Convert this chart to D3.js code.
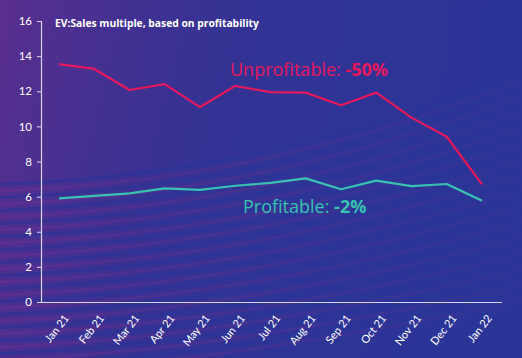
<!DOCTYPE html>
<html><head><meta charset="utf-8">
<script src="https://cdn.jsdelivr.net/npm/d3@7"></script>
<style>html,body{margin:0;padding:0;overflow:hidden;background:#3a3290}</style>
</head><body><svg id="c" width="522" height="358"></svg>
<script>
const months = ["Jan 21","Feb 21","Mar 21","Apr 21","May 21","Jun 21","Jul 21","Aug 21","Sep 21","Oct 21","Nov 21","Dec 21","Jan 22"];
const unprofitable = [13.54,13.27,12.07,12.41,11.1,12.3,11.95,11.92,11.2,11.92,10.5,9.41,6.7];
const profitable = [5.9,6.04,6.19,6.47,6.38,6.62,6.78,7.04,6.42,6.91,6.6,6.72,5.77];
const yTicks = [0,2,4,6,8,10,12,14,16];

const svg = d3.select("#c");
const W = 522, H = 358;
const defs = svg.append("defs");
const g1 = defs.append("linearGradient").attr("id","bg").attr("x1","0").attr("y1","0").attr("x2","1").attr("y2","0.25");
g1.append("stop").attr("offset","0").attr("stop-color","#5a2e8e");
g1.append("stop").attr("offset","0.45").attr("stop-color","#3a3192");
g1.append("stop").attr("offset","1").attr("stop-color","#2b3597");
svg.append("rect").attr("width",W).attr("height",H).attr("fill","url(#bg)");

// wavy stripes decoration
const stripes = svg.append("g").attr("opacity",0.6);
for (let i = 0; i < 30; i++) {
  const y0 = 185 + i * 6.5;
  stripes.append("path")
    .attr("d", `M-10,${y0} C150,${y0-6} 320,${y0-30} 540,${y0-120+i*1.5}`)
    .attr("fill","none")
    .attr("stroke", i % 2 ? "#6a2f90" : "#27339a")
    .attr("stroke-width", 3);
}
const fade = defs.append("linearGradient").attr("id","fade").attr("x1","0").attr("y1","0").attr("x2","1").attr("y2","0");
fade.append("stop").attr("offset","0").attr("stop-color","#2b3597").attr("stop-opacity",0);
fade.append("stop").attr("offset","0.5").attr("stop-color","#2b3597").attr("stop-opacity",0.45);
fade.append("stop").attr("offset","1").attr("stop-color","#2b3597").attr("stop-opacity",0.9);
svg.append("rect").attr("width",W).attr("height",H).attr("fill","url(#fade)");

const x = d3.scalePoint().domain(months).range([59, 482]);
const y = d3.scaleLinear().domain([0,16]).range([302, 21]);

const axisColor = "#d8d4f0";
const yAxis = svg.append("g").attr("transform","translate(41,0)")
  .call(d3.axisLeft(y).tickValues(yTicks).tickSize(4).tickPadding(5));
yAxis.select(".domain").attr("stroke",axisColor).attr("stroke-width",1.2);
yAxis.selectAll(".tick line").attr("stroke",axisColor);
yAxis.selectAll("text").attr("fill","#ffffff").style("font-family","Lato, 'Open Sans', sans-serif").style("font-size","11.5px");

const xAxis = svg.append("g").attr("transform","translate(0,302)")
  .call(d3.axisBottom(x).tickSize(0).tickPadding(8));
xAxis.select(".domain").attr("d","M41,0.5H502").attr("stroke",axisColor).attr("stroke-width",1.2);
xAxis.selectAll("text")
  .attr("fill","#ffffff").style("font-family","Lato, 'Open Sans', sans-serif").style("font-size","11px")
  .attr("text-anchor","end").attr("y",0).attr("dy","0.35em")
  .attr("transform","translate(7,14) rotate(-52)");

svg.append("text").attr("x",55).attr("y",27).attr("fill","#ffffff")
  .style("font-family","'Open Sans', sans-serif").style("font-size","10.3px").style("font-weight","bold")
  .text("EV:Sales multiple, based on profitability");

const line = d3.line().x((d,i)=>x(months[i])).y(d=>y(d));
svg.append("path").datum(unprofitable).attr("d",line).attr("fill","none")
  .attr("stroke","#e5185c").attr("stroke-width",2.2).attr("stroke-linejoin","round");
svg.append("path").datum(profitable).attr("d",line).attr("fill","none")
  .attr("stroke","#38c2b0").attr("stroke-width",2.2).attr("stroke-linejoin","round");

const t1 = svg.append("text").attr("x",230).attr("y",76).attr("fill","#e5185c")
  .style("font-family","'Open Sans', sans-serif").style("font-size","18px");
t1.append("tspan").text("Unprofitable: ");
t1.append("tspan").style("font-weight","bold").text("-50%");
const t2 = svg.append("text").attr("x",243).attr("y",213).attr("fill","#38c2b0")
  .style("font-family","'Open Sans', sans-serif").style("font-size","18px");
t2.append("tspan").text("Profitable: ");
t2.append("tspan").style("font-weight","bold").text("-2%");
</script></body></html>
